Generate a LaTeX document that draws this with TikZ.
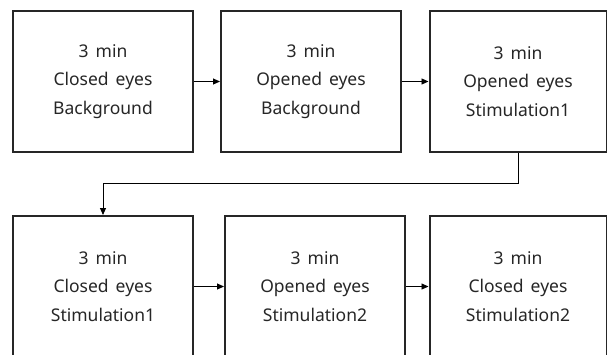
\documentclass[tikz,border=0pt]{standalone}
\usepackage{fontspec}
\setmainfont{Noto Sans}
\usetikzlibrary{arrows.meta}
\newcommand{\gap}{\hspace{0.4em}}
\begin{document}
\begin{tikzpicture}[x=1pt,y=-1pt,
  stepbox/.style={draw=black!85,line width=2pt,rectangle,minimum width=180pt,minimum height=141pt,
    align=center,inner sep=0pt,font=\fontsize{17.5}{28.5}\selectfont,text=black!85},
  conn/.style={draw=black,line width=0.9pt,-{Triangle[length=7pt,width=6pt]}}]
\useasboundingbox (0,0) rectangle (607,354);
\clip (0,0) rectangle (607,354);
\node[stepbox] (b1) at (103,81.5) {3\gap min\\Closed\gap eyes\\Background};
\node[stepbox] (b2) at (311,81.5) {3\gap min\\Opened\gap eyes\\Background};
\node[stepbox,minimum width=177pt] (b3) at (518,81.5) {3\gap min\\Opened\gap eyes\\Stimulation1};
\node[stepbox] (b4) at (103,286.5) {3\gap min\\Closed\gap eyes\\Stimulation1};
\node[stepbox] (b5) at (315,286.5) {3\gap min\\Opened\gap eyes\\Stimulation2};
\node[stepbox,minimum width=177pt] (b6) at (518,286.5) {3\gap min\\Closed\gap eyes\\Stimulation2};
\draw[conn] (b1) -- (b2);
\draw[conn] (b2) -- (b3);
\draw[conn] (b4) -- (b5);
\draw[conn] (b5) -- (b6);
\coordinate (turn) at (518,183);
\draw[conn] (b3.south) -- (turn) -| (b4.north);
\end{tikzpicture}
\end{document}
